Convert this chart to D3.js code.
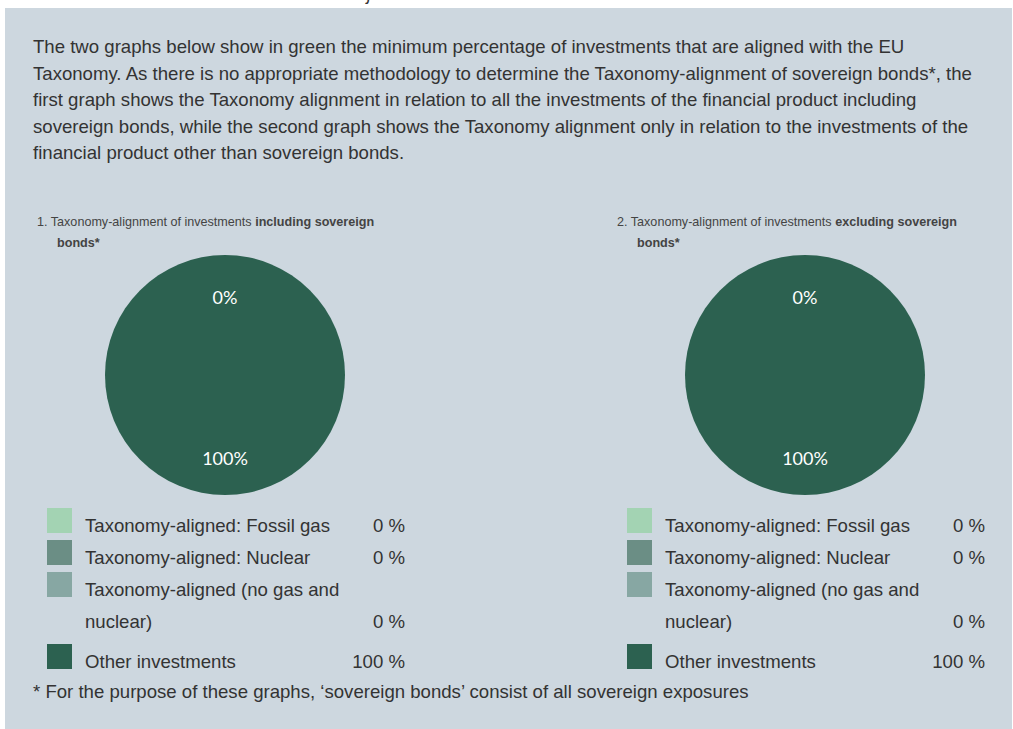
<!DOCTYPE html>
<html>
<head>
<meta charset="utf-8">
<script src="https://cdn.jsdelivr.net/npm/d3@7"></script>
<style>
  body { margin: 0; background: #fff; }
  svg { display: block; font-family: "Liberation Sans", Arial, sans-serif; }
</style>
</head>
<body>
<div id="chart-area"></div>
<script>
// data
var categories = ['Taxonomy-aligned: Fossil gas', 'Taxonomy-aligned: Nuclear',
                  'Taxonomy-aligned (no gas and nuclear)', 'Other investments'];
var includingSov = [0, 0, 0, 100];
var excludingSov = [0, 0, 0, 100];
var colours = ['#a3d3b3', '#6b8e85', '#87a7a3', '#2c6150'];
var titlesPlain = ['1. Taxonomy-alignment of investments ', '2. Taxonomy-alignment of investments '];
var titlesBold = ['including sovereign', 'excluding sovereign'];
var intro = [
  'The two graphs below show in green the minimum percentage of investments that are aligned with the EU',
  'Taxonomy. As there is no appropriate methodology to determine the Taxonomy-alignment of sovereign bonds*, the',
  'first graph shows the Taxonomy alignment in relation to all the investments of the financial product including',
  'sovereign bonds, while the second graph shows the Taxonomy alignment only in relation to the investments of the',
  'financial product other than sovereign bonds.'
];
var footnote = '* For the purpose of these graphs, \u2018sovereign bonds\u2019 consist of all sovereign exposures';

var def = { width: 1013, height: 729, r: 120, cy: 375, fs: '18.6px' };

var svg = d3.select('#chart-area').append('svg')
    .attr('width', def.width)
    .attr('height', def.height);

// heading above the box, mostly scrolled off
svg.append('text')
    .attr('x', 2).attr('y', 0)
    .attr('font-size', '18px').attr('font-style', 'italic')
    .attr('fill', '#333')
    .text('describe to contribute to the environmental objective');

svg.append('rect')
    .attr('x', 5).attr('y', 8)
    .attr('width', 1007).attr('height', 730)
    .attr('fill', '#cdd7df');

// intro paragraph
svg.append('g').selectAll('text')
    .data(intro)
    .enter().append('text')
    .attr('x', 33)
    .attr('y', (d, i) => 53 + i * 26.5)
    .attr('font-size', def.fs)
    .attr('fill', '#333')
    .text(d => d);

svg.append('text')
    .attr('x', 33).attr('y', 698)
    .attr('font-size', def.fs)
    .attr('fill', '#333')
    .text(footnote);

var colour = d3.scaleOrdinal().domain(categories).range(colours);

function drawGraph(idx, values, cx, legX, valX) {
    var g = svg.append('g');

    // title
    var t = g.append('text')
        .attr('x', cx - 188).attr('y', 226)
        .attr('font-size', '12.6px').attr('fill', '#444');
    t.append('tspan').text(titlesPlain[idx]);
    t.append('tspan').attr('font-weight', 'bold').text(titlesBold[idx]);
    g.append('text')
        .attr('x', cx - 168).attr('y', 247)
        .attr('font-size', '12.6px').attr('font-weight', 'bold').attr('fill', '#444')
        .text('bonds*');

    // pie: aligned total vs other
    var aligned = d3.sum(values.slice(0, 3));
    var pieData = [
        { key: 'aligned', value: aligned, fill: colours[0] },
        { key: 'other', value: values[3], fill: colours[3] }
    ];
    var pie = d3.pie().sort(null).value(d => d.value);
    var arc = d3.arc().innerRadius(0).outerRadius(def.r);
    var labelArc = d3.arc().innerRadius(def.r * 0.67).outerRadius(def.r * 0.67);

    var pg = g.append('g').attr('transform', 'translate(' + cx + ',' + def.cy + ')');
    pg.selectAll('path')
        .data(pie(pieData))
        .enter().append('path')
        .attr('d', arc)
        .attr('fill', d => d.data.fill);
    pg.selectAll('text')
        .data(pie(pieData))
        .enter().append('text')
        .attr('transform', d => {
            var c = labelArc.centroid(d);
            return 'translate(' + c[0] + ',' + (c[1] + 3) + ')';
        })
        .attr('text-anchor', 'middle')
        .attr('dy', '0.35em')
        .attr('font-family', 'Lato, sans-serif')
        .attr('font-size', '18px')
        .attr('fill', '#fff')
        .text(d => d.data.value + '%');

    // legend
    var rowsY = [508, 540, 572, 644];
    var lg = g.append('g');
    categories.forEach((c, i) => {
        lg.append('rect')
            .attr('x', legX).attr('y', rowsY[i])
            .attr('width', 25).attr('height', 25)
            .attr('fill', colour(c));
        var lines = i == 2 ? ['Taxonomy-aligned (no gas and', 'nuclear)'] : [c];
        lines.forEach((l, j) => {
            lg.append('text')
                .attr('x', legX + 38).attr('y', rowsY[i] + 24 + j * 32)
                .attr('font-size', def.fs).attr('fill', '#333')
                .text(l);
        });
        lg.append('text')
            .attr('x', valX).attr('y', rowsY[i] + 24 + (lines.length - 1) * 32)
            .attr('text-anchor', 'end')
            .attr('font-size', def.fs).attr('fill', '#333')
            .text(values[i] + ' %');
    });
}

drawGraph(0, includingSov, 225, 47, 405);
drawGraph(1, excludingSov, 805, 627, 985);
</script>
</body>
</html>
